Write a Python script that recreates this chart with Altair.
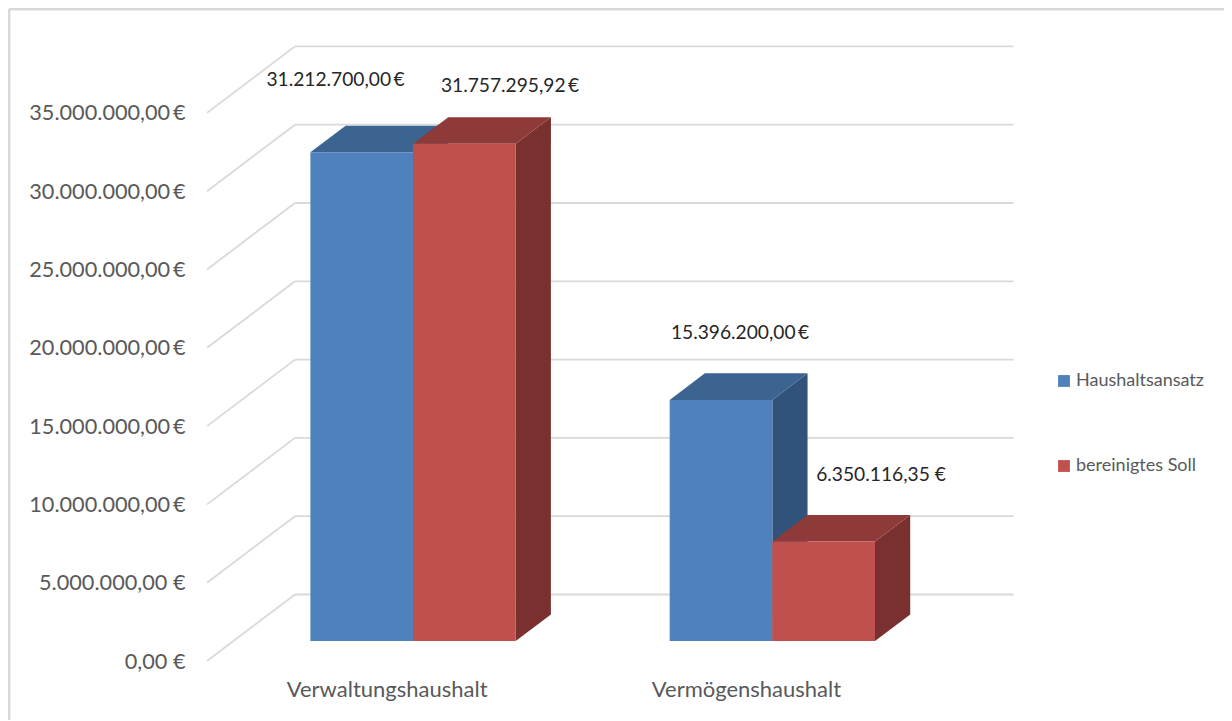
import altair as alt
import pandas as pd

categories = ["Verwaltungshaushalt", "Vermögenshaushalt"]
series_names = ["Haushaltsansatz", "bereinigtes Soll"]
haushaltsansatz = [31212700.00, 15396200.00]
bereinigtes_soll = [31757295.92, 6350116.35]
value_labels_a = ["31.212.700,00\u2009€", "15.396.200,00\u2009€"]
value_labels_b = ["31.757.295,92\u2009€", "6.350.116,35 €"]
y_ticks = [0, 5e6, 10e6, 15e6, 20e6, 25e6, 30e6, 35e6]

# 3D projection of the chart box, in axis units
PX_PER_CAT = 359.3
PX_PER_EUR = 78.3 / 5e6
WIDTH, HEIGHT = 1017, 653
DX = 88 / PX_PER_CAT      # depth of the floor, categories
DY = 66.5 / PX_PER_EUR    # depth of the floor, euro
BAR_W = 1 / 3.5           # gap width 150 %
GAP = (1 - 2 * BAR_W) / 2
NEAR, DEPTH = 0.3, 0.4    # gap depth 150 %

palette = {
    "Haushaltsansatz": ("#4F81BD", "#3B6491", "#31537B"),
    "bereinigtes Soll": ("#C0504D", "#8E3A38", "#7A302E"),
}

x_scale = alt.Scale(domain=[0, WIDTH / PX_PER_CAT], nice=False, zero=False)
y_scale = alt.Scale(domain=[0, HEIGHT / PX_PER_EUR], nice=False, zero=False)
colour_scale = alt.Scale(domain=series_names, range=[palette[s][0] for s in series_names])

y_axis = alt.Axis(
    values=y_ticks, title=None, domain=False, ticks=False, grid=False,
    labelExpr="replace(format(datum.value, ',.0f'), /,/g, '.') + (datum.value < 10000000 ? ',00 €' : ',00\u2009€')",
    labelFont="Lato", labelFontSize=21.7, labelColor="#595959", labelPadding=22,
    labelLimit=300,
)
x_axis = alt.Axis(
    values=[0.5, 1.5], title=None, domain=False, ticks=False, grid=False,
    labelExpr=f"datum.value < 1 ? '{categories[0]}' : '{categories[1]}'",
    labelFont="Lato", labelFontSize=22, labelColor="#595959", labelPadding=18,
    labelAngle=0, labelLimit=400,
)

# frame of the chart
frame_left = alt.Chart(pd.DataFrame({"a": [0]})).mark_rule(color="#D9D9D9", strokeWidth=3).encode(
    x=alt.value(-198), y=alt.value(1), y2=alt.value(712))
frame_top = alt.Chart(pd.DataFrame({"a": [0]})).mark_rule(color="#D9D9D9", strokeWidth=3).encode(
    y=alt.value(1), x=alt.value(-198), x2=alt.value(1017))

# back wall and side wall lines
grid_df = pd.DataFrame({
    "x": [DX] * len(y_ticks), "x2": [DX + 2] * len(y_ticks),
    "y": [t + DY for t in y_ticks],
})
grid = alt.Chart(grid_df).mark_rule(color="#D9D9D9", strokeWidth=1.8).encode(
    x=alt.X("x:Q", scale=x_scale, axis=x_axis),
    x2="x2:Q",
    y=alt.Y("y:Q", scale=y_scale, axis=y_axis),
)
diag_rows = []
for t in y_ticks:
    diag_rows += [{"t": t, "x": 0, "y": t}, {"t": t, "x": DX, "y": t + DY}]
diag = alt.Chart(pd.DataFrame(diag_rows)).mark_line(color="#D9D9D9", strokeWidth=1.8).encode(
    x=alt.X("x:Q", scale=x_scale), y=alt.Y("y:Q", scale=y_scale), detail="t:N")

layers = [frame_left, frame_top, grid, diag]

base_y = NEAR * DY
base_x = NEAR * DX
for s_idx, (name, values) in enumerate(zip(series_names, [haushaltsansatz, bereinigtes_soll])):
    front, side, top = palette[name][0], palette[name][2], palette[name][1]
    front_rows, side_rows, top_rows = [], [], []
    for c_idx, v in enumerate(values):
        left = c_idx + GAP + s_idx * BAR_W + base_x
        right = left + BAR_W
        front_rows.append({"series": name, "x": left, "x2": right, "y": base_y, "y2": base_y + v})
        side_rows += [
            {"bar": c_idx, "x": right, "y": base_y, "y2": base_y + v},
            {"bar": c_idx, "x": right + DEPTH * DX, "y": base_y + DEPTH * DY, "y2": base_y + v + DEPTH * DY},
        ]
        top_rows += [
            {"bar": c_idx, "x": left, "x2": right, "y": base_y + v},
            {"bar": c_idx, "x": left + DEPTH * DX, "x2": right + DEPTH * DX, "y": base_y + v + DEPTH * DY},
        ]
    layers.append(alt.Chart(pd.DataFrame(side_rows)).mark_area(orient="vertical", color=side).encode(
        x=alt.X("x:Q", scale=x_scale), y=alt.Y("y:Q", scale=y_scale), y2="y2:Q", detail="bar:N"))
    layers.append(alt.Chart(pd.DataFrame(top_rows)).mark_area(orient="horizontal", color=top).encode(
        y=alt.Y("y:Q", scale=y_scale), x=alt.X("x:Q", scale=x_scale), x2="x2:Q", detail="bar:N"))
    layers.append(alt.Chart(pd.DataFrame(front_rows)).mark_rect().encode(
        x=alt.X("x:Q", scale=x_scale), x2="x2:Q",
        y=alt.Y("y:Q", scale=y_scale), y2="y2:Q",
        color=alt.Color("series:N", scale=colour_scale, legend=alt.Legend(
            orient="none", legendX=848, legendY=362, title=None, symbolType="square",
            symbolSize=140, symbolStrokeWidth=0, labelFont="Lato", labelFontSize=18,
            labelColor="#595959", rowPadding=63, labelOffset=3, clipHeight=22)),
    ))

# value labels, placed where the reference has them, relative to each bar top
label_df = pd.DataFrame({
    "text": [value_labels_a[0], value_labels_b[0], value_labels_a[1], value_labels_b[1]],
    "x": [128.5 / PX_PER_CAT, 303 / PX_PER_CAT, 533 / PX_PER_CAT, 674 / PX_PER_CAT],
    "y": [581 / PX_PER_EUR, 575 / PX_PER_EUR, 328 / PX_PER_EUR, 186 / PX_PER_EUR],
})
labels = alt.Chart(label_df).mark_text(font="Lato", fontSize=19.2, color="#262626").encode(
    x=alt.X("x:Q", scale=x_scale), y=alt.Y("y:Q", scale=y_scale), text="text:N")
layers.append(labels)

chart = alt.layer(*layers).properties(
    width=WIDTH, height=HEIGHT, autosize="none",
    padding={"left": 199, "top": 0, "right": 0, "bottom": 59},
).configure_view(stroke=None)

chart.save("out.html", embed_options={"renderer": "svg", "actions": False})
